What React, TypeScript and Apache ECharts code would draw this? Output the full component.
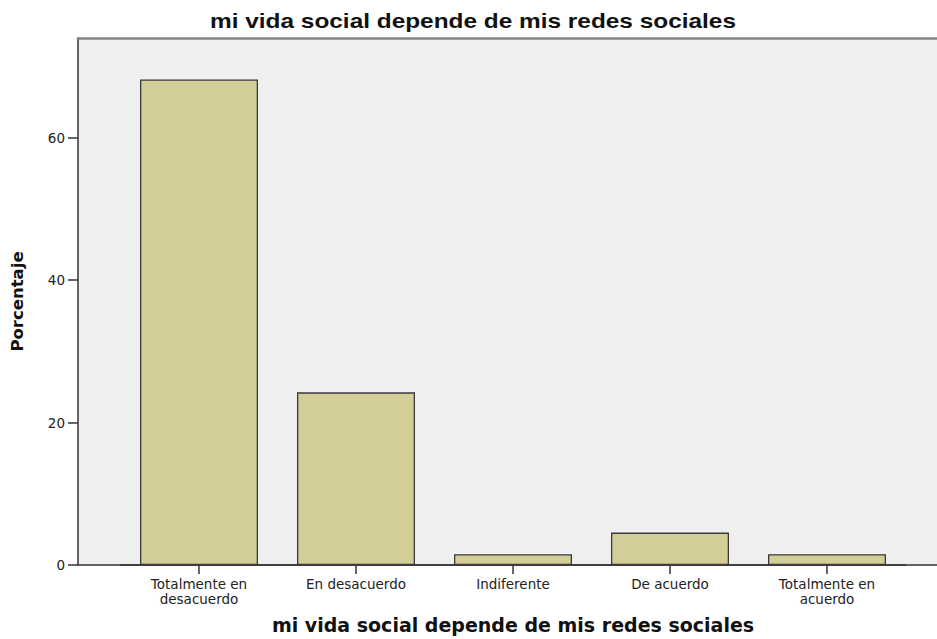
import React, { useEffect, useRef } from "react";
import * as echarts from "echarts";

const titleText = "mi vida social depende de mis redes sociales";
const categories = ["Totalmente en\ndesacuerdo", "En desacuerdo", "Indiferente", "De acuerdo", "Totalmente en\nacuerdo"];
const percentages = [68.18, 24.24, 1.52, 4.55, 1.52];
const yTicks = [0, 20, 40, 60];
const yAxisName = "Porcentaje";
const xAxisName = "mi vida social depende de mis redes sociales";

export default function App() {
  const ref = useRef<HTMLDivElement>(null);
  useEffect(() => {
    if (!ref.current) return;
    const chart = echarts.init(ref.current, null, { renderer: "svg" });
    const top = 38;
    const bottom = 74;
    chart.setOption({
      animation: false,
      backgroundColor: "#ffffff",
      graphic: [
        {
          type: "text",
          x: 473,
          y: 21,
          scaleX: 1.22,
          style: {
            text: titleText,
            fontFamily: "Liberation Sans",
            fontWeight: "bold",
            fontSize: 20,
            fill: "#111",
            textAlign: "center",
            textVerticalAlign: "middle",
          },
        },
      ],
      grid: [
        { left: 78, right: 0, top, bottom, show: true, backgroundColor: "#efefef", borderWidth: 0, z: 0, outerBoundsMode: "none", containLabel: false },
        { left: 120.5, right: 31.5, top, bottom, outerBoundsMode: "none", containLabel: false },
      ],
      xAxis: [
        {
          type: "value", gridIndex: 0, min: 0, max: 1, position: "bottom",
          axisLine: { show: true, lineStyle: { color: "#333", width: 1.5 } },
          axisTick: { show: false }, axisLabel: { show: false }, splitLine: { show: false },
        },
        {
          type: "value", gridIndex: 0, min: 0, max: 1, position: "top",
          axisLine: { show: true, lineStyle: { color: "#858585", width: 2.5 } },
          axisTick: { show: false }, axisLabel: { show: false }, splitLine: { show: false },
        },
        {
          type: "category", gridIndex: 1, data: categories, position: "bottom",
          axisLine: { show: true, lineStyle: { color: "#333", width: 1.5 } },
          axisTick: { show: true, alignWithLabel: true, length: 9, lineStyle: { color: "#333", width: 1.5 } },
          axisLabel: { margin: 11, color: "#222", fontFamily: "DejaVu Sans", fontSize: 13.5, lineHeight: 15, interval: 0 },
          name: xAxisName,
          nameLocation: "middle",
          nameGap: 50,
          nameTextStyle: { fontFamily: "DejaVu Sans", fontWeight: "bold", fontSize: 19, color: "#111" },
        },
      ],
      yAxis: [
        {
          type: "value", gridIndex: 0, min: 0, max: 74,
          axisLine: { show: true, lineStyle: { color: "#333", width: 1.5 } },
          axisTick: { show: true, length: 10, customValues: yTicks, lineStyle: { color: "#333", width: 1.5 } },
          axisLabel: { margin: 13, customValues: yTicks, color: "#222", fontFamily: "DejaVu Sans", fontSize: 13.5 },
          splitLine: { show: false },
          name: yAxisName,
          nameLocation: "middle",
          nameRotate: 90,
          nameGap: 52,
          nameTextStyle: { fontFamily: "DejaVu Sans", fontWeight: "bold", fontSize: 16.5, color: "#111" },
        },
        {
          type: "value", gridIndex: 1, min: 0, max: 74, show: false, splitLine: { show: false },
        },
      ],
      series: [
        {
          type: "bar",
          xAxisIndex: 2,
          yAxisIndex: 1,
          data: percentages,
          barWidth: 118,
          itemStyle: { color: "#d3ce98", borderColor: "#3a3a3a", borderWidth: 1.3 },
        },
      ],
    });
    return () => chart.dispose();
  }, []);
  return <div ref={ref} style={{ position: "fixed", left: 0, top: 0, width: 937, height: 639 }} />;
}
